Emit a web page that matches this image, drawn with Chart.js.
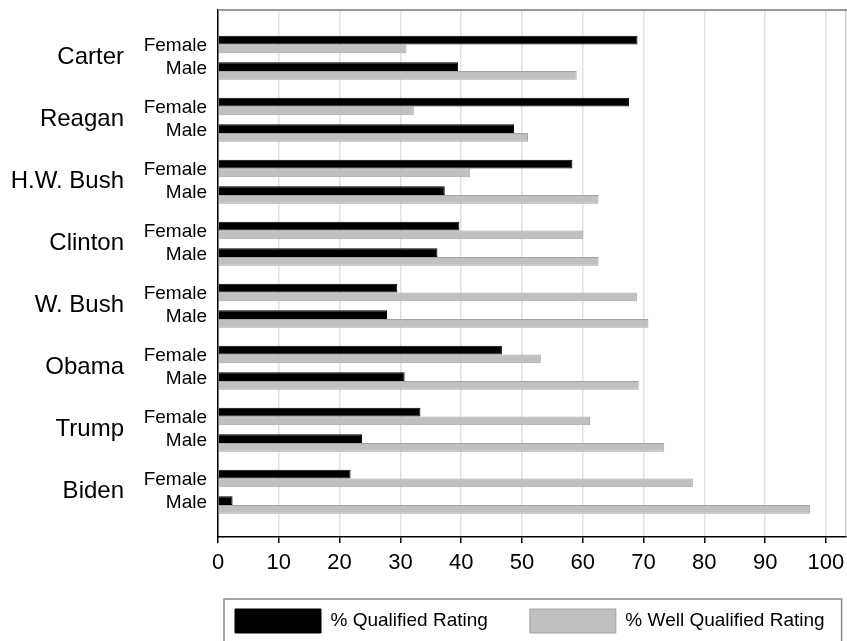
<!DOCTYPE html>
<html lang="en">

<head>
    <meta charset="UTF-8">
    <title>ABA ratings by gender</title>
    <script src="https://cdn.jsdelivr.net/npm/chart.js"></script>
    <style>
        html, body { margin: 0; padding: 0; background: #fff; }
        #caixa { width: 847px; height: 641px; }
    </style>
</head>

<body>
    <div id="caixa"><canvas id="grafico"></canvas></div>

    <script>
        const presidentes = ['Carter', 'Reagan', 'H.W. Bush', 'Clinton', 'W. Bush', 'Obama', 'Trump', 'Biden'];
        const generos = ['Female', 'Male'];
        const seriesNomes = ['% Qualified Rating', '% Well Qualified Rating'];

        // valores (%)
        const qualifiedFemale = [69.0, 67.6, 58.3, 39.7, 29.5, 46.7, 33.3, 21.8];
        const wellFemale      = [31.0, 32.2, 41.5, 60.1, 68.9, 53.1, 61.2, 78.1];
        const qualifiedMale   = [39.5, 48.7, 37.3, 36.1, 27.8, 30.7, 23.7, 2.4];
        const wellMale        = [59.0, 51.0, 62.6, 62.6, 70.8, 69.2, 73.4, 97.4];
        const xTicks = [0, 10, 20, 30, 40, 50, 60, 70, 80, 90, 100];

        const PRETO = '#000000';
        const CINZA = '#c0c0c0';
        const FONTE = '"Liberation Sans", Arial, Helvetica, sans-serif';

        // rótulos Female / Male ao lado de cada par de barras
        const rotulosGenero = {
            id: 'rotulosGenero',
            afterDatasetsDraw(chart) {
                const ctx = chart.ctx;
                const x = chart.chartArea.left - 11;
                ctx.save();
                ctx.font = '19px ' + FONTE;
                ctx.fillStyle = '#000';
                ctx.textAlign = 'right';
                ctx.textBaseline = 'middle';
                presidentes.forEach((p, i) => {
                    const fa = chart.getDatasetMeta(0).data[i];
                    const fb = chart.getDatasetMeta(1).data[i];
                    const ma = chart.getDatasetMeta(3).data[i];
                    const mb = chart.getDatasetMeta(4).data[i];
                    ctx.fillText(generos[0], x, (fa.y + fb.y) / 2 + 1);
                    ctx.fillText(generos[1], x, (ma.y + mb.y) / 2 - 2);
                });
                ctx.restore();
            }
        };

        // legenda deslocada para a direita, como no original;
        // e a área dos rótulos do eixo x um pouco mais alta para não cortar os números
        const ajusteLayout = {
            id: 'ajusteLayout',
            afterLayout(chart) {
                const lg = chart.legend;
                const w = lg.right - lg.left;
                lg.left = 193;
                lg.right = lg.left + w;
                chart.scales.x.bottom = chart.scales.x.top + 45;
            }
        };

        // linha cinza no topo e moldura da legenda
        const molduras = {
            id: 'molduras',
            afterDraw(chart) {
                const ctx = chart.ctx;
                const area = chart.chartArea;
                ctx.save();
                ctx.strokeStyle = '#9a9a9a';
                ctx.lineWidth = 2;
                ctx.beginPath();
                ctx.moveTo(area.left, area.top);
                ctx.lineTo(chart.width, area.top);
                ctx.stroke();

                const caixas = chart.legend.legendHitBoxes;
                if (caixas && caixas.length) {
                    const primeira = caixas[0];
                    const ultima = caixas[caixas.length - 1];
                    const esq = primeira.left - 11;
                    const dir = ultima.left + ultima.width + 17;
                    const topo = primeira.top - 10;
                    ctx.strokeStyle = '#8a8a8a';
                    ctx.lineWidth = 1.5;
                    ctx.strokeRect(esq, topo, dir - esq, 80);
                }
                ctx.restore();
            }
        };

        const ctx = document.getElementById('grafico').getContext('2d');

        new Chart(ctx, {
            type: 'bar',
            data: {
                labels: presidentes.map((p, i) => i),
                datasets: [
                    { label: seriesNomes[0], data: qualifiedFemale, backgroundColor: PRETO, borderColor: PRETO, borderWidth: 1 },
                    { label: seriesNomes[1], data: wellFemale, backgroundColor: CINZA, borderColor: '#a3a3a3', borderWidth: 1 },
                    { label: '', data: presidentes.map(() => null), backgroundColor: 'rgba(0,0,0,0)', borderWidth: 0 },
                    { label: seriesNomes[0], data: qualifiedMale, backgroundColor: PRETO, borderColor: PRETO, borderWidth: 1 },
                    { label: seriesNomes[1], data: wellMale, backgroundColor: CINZA, borderColor: '#a3a3a3', borderWidth: 1 }
                ]
            },
            options: {
                indexAxis: 'y',
                responsive: true,
                maintainAspectRatio: false,
                animation: false,
                datasets: {
                    bar: { categoryPercentage: 0.71, barPercentage: 1 }
                },
                layout: { padding: { left: 0, right: 1, top: 10, bottom: -2 } },
                plugins: {
                    tooltip: { enabled: false },
                    legend: {
                        position: 'bottom',
                        align: 'start',
                        labels: {
                            filter: item => item.datasetIndex < 2,
                            boxWidth: 86,
                            boxHeight: 24,
                            padding: 42,
                            color: '#000',
                            font: { size: 19, family: FONTE }
                        }
                    }
                },
                scales: {
                    x: {
                        type: 'linear',
                        min: 0,
                        max: 103.3,
                        afterBuildTicks: s => {
                            s.ticks = xTicks.map(v => ({ value: v })).concat([{ value: 103.3 }]);
                        },
                        ticks: {
                            autoSkip: false,
                            maxRotation: 0,
                            padding: 7,
                            color: '#000',
                            font: { size: 22, family: FONTE },
                            callback: v => (xTicks.includes(v) ? v : '')
                        },
                        grid: {
                            color: c => (c.tick && xTicks.includes(c.tick.value) ? '#e2e2e2' : '#d0d0d0'),
                            lineWidth: 1.5,
                            tickLength: 6,
                            tickWidth: 1.5,
                            tickColor: c => (c.tick && xTicks.includes(c.tick.value) ? '#000' : 'rgba(0,0,0,0)')
                        },
                        border: { color: '#000', width: 1.5 },
                        afterFit: s => {
                            s.height = 30;
                            s.paddingLeft = 0;
                            s.paddingRight = 0;
                        }
                    },
                    y: {
                        type: 'linear',
                        reverse: true,
                        offset: false,
                        min: -0.77,
                        max: 7.73,
                        afterBuildTicks: s => {
                            s.ticks = presidentes.map((p, i) => ({ value: i }));
                        },
                        ticks: {
                            autoSkip: false,
                            padding: 94,
                            color: '#000',
                            font: { size: 24, family: FONTE },
                            callback: (v, i) => presidentes[i]
                        },
                        grid: { display: false, drawTicks: false, offset: false },
                        border: { display: true, color: '#000', width: 1.5 },
                        afterFit: s => {
                            s.width = 218;
                            s.paddingTop = 0;
                            s.paddingBottom = 0;
                        }
                    }
                }
            },
            plugins: [ajusteLayout, rotulosGenero, molduras]
        });
    </script>
</body>

</html>
